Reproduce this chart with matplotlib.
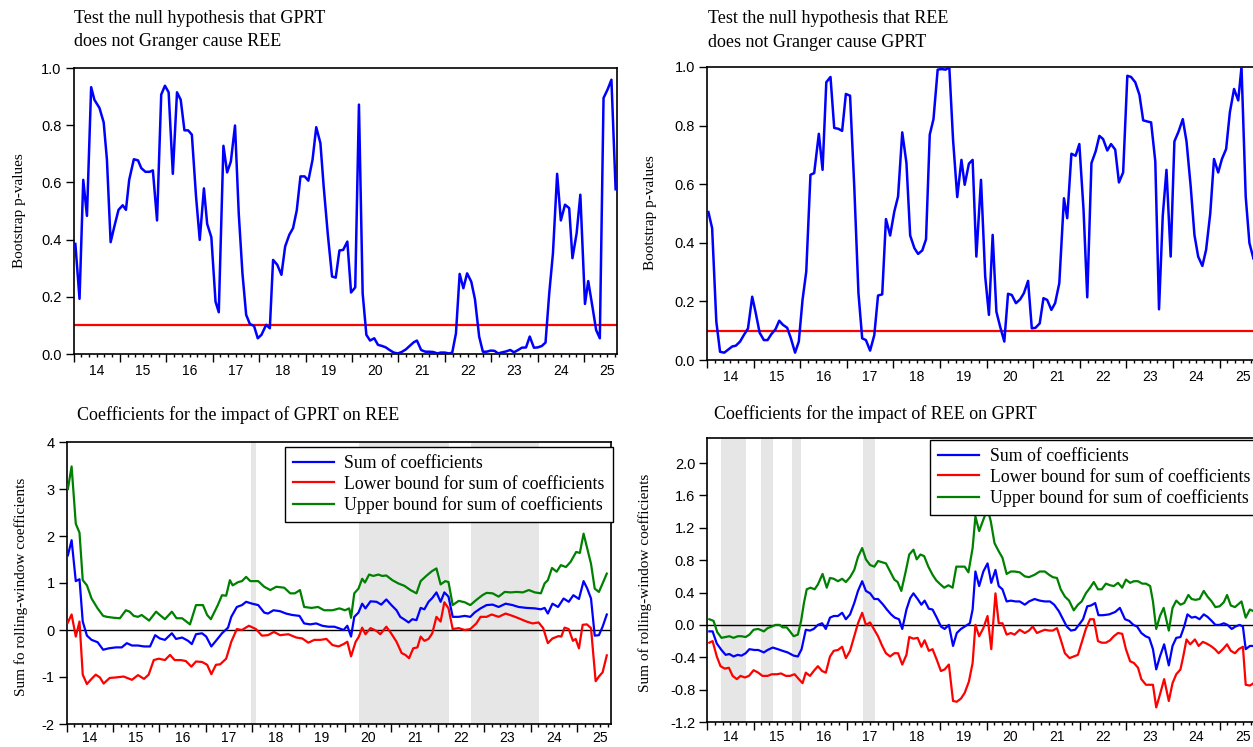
import matplotlib
matplotlib.use('Agg')
import matplotlib.pyplot as plt
from matplotlib.lines import Line2D

W, H = 1253, 747
SERIF = 'Liberation Serif'
SANS = 'Liberation Sans'

# ---------------- data ----------------
year_labels = ['14', '15', '16', '17', '18', '19', '20', '21', '22', '23', '24', '25']
years = list(range(2014, 2026))

# Top-left: bootstrap p-values, H0: GPRT does not Granger cause REE
tl_x = [2014.04, 2014.13, 2014.21, 2014.29, 2014.38, 2014.45, 2014.56, 2014.65, 2014.72, 2014.80, 2014.88, 2014.97,
        2015.06, 2015.13, 2015.20, 2015.30, 2015.39, 2015.46, 2015.55, 2015.64, 2015.71, 2015.80, 2015.89, 2015.97,
        2016.05, 2016.14, 2016.23, 2016.31, 2016.39, 2016.47, 2016.55, 2016.64, 2016.72, 2016.81, 2016.88, 2016.97,
        2017.06, 2017.13, 2017.23, 2017.31, 2017.39, 2017.48, 2017.56, 2017.64, 2017.72, 2017.80, 2017.89, 2017.97,
        2018.05, 2018.15, 2018.23, 2018.30, 2018.39, 2018.48, 2018.56, 2018.65, 2018.73, 2018.81, 2018.89, 2018.98,
        2019.06, 2019.15, 2019.23, 2019.32, 2019.39, 2019.48, 2019.57, 2019.65, 2019.73, 2019.81, 2019.90, 2019.98,
        2020.07, 2020.15, 2020.23, 2020.31, 2020.39, 2020.48, 2020.56, 2020.65, 2020.73, 2020.81, 2020.90, 2020.99,
        2021.07, 2021.16, 2021.24, 2021.33, 2021.40, 2021.49, 2021.58, 2021.66, 2021.75, 2021.84, 2021.91,
        2022.00, 2022.09, 2022.16, 2022.24, 2022.32, 2022.40, 2022.48, 2022.57, 2022.65, 2022.74, 2022.82, 2022.90, 2022.99,
        2023.07, 2023.15, 2023.24, 2023.32, 2023.41, 2023.49, 2023.58, 2023.66, 2023.75, 2023.83, 2023.92,
        2024.00, 2024.09, 2024.17, 2024.25, 2024.33, 2024.42, 2024.50, 2024.59, 2024.68, 2024.75, 2024.84, 2024.92,
        2025.02, 2025.09, 2025.18, 2025.26, 2025.34, 2025.42, 2025.51, 2025.59, 2025.68]
tl_p = [0.385, 0.193, 0.609, 0.483, 0.933, 0.889, 0.86, 0.81, 0.68, 0.391, 0.446, 0.504,
        0.52, 0.504, 0.609, 0.681, 0.677, 0.65, 0.637, 0.637, 0.642, 0.467, 0.907, 0.938,
        0.915, 0.63, 0.915, 0.889, 0.782, 0.782, 0.767, 0.551, 0.399, 0.579, 0.455, 0.408,
        0.183, 0.146, 0.728, 0.635, 0.673, 0.799, 0.492, 0.282, 0.137, 0.105, 0.098, 0.055,
        0.067, 0.102, 0.09, 0.329, 0.312, 0.277, 0.376, 0.417, 0.44, 0.502, 0.621, 0.621,
        0.606, 0.679, 0.793, 0.737, 0.586, 0.417, 0.271, 0.267, 0.362, 0.364, 0.393, 0.215,
        0.233, 0.872, 0.212, 0.067, 0.047, 0.055, 0.032, 0.028, 0.023, 0.014, 0.005, 0.002,
        0.007, 0.016, 0.028, 0.041, 0.047, 0.014, 0.008, 0.008, 0.007, 0.002, 0.005,
        0.005, 0.002, 0.005, 0.072, 0.28, 0.23, 0.282, 0.253, 0.191, 0.061, 0.008, 0.008, 0.012,
        0.011, 0.002, 0.006, 0.009, 0.014, 0.006, 0.014, 0.022, 0.023, 0.061, 0.022,
        0.023, 0.028, 0.04, 0.212, 0.352, 0.63, 0.467, 0.522, 0.51, 0.335, 0.422, 0.557,
        0.175, 0.255, 0.166, 0.084, 0.055, 0.895, 0.926, 0.959, 0.576]

# Top-right: bootstrap p-values, H0: REE does not Granger cause GPRT
tr_x = [2014.03, 2014.11, 2014.20, 2014.28, 2014.37, 2014.46, 2014.54, 2014.62, 2014.71, 2014.79, 2014.88, 2014.97,
        2015.04, 2015.13, 2015.22, 2015.30, 2015.38, 2015.47, 2015.55, 2015.63, 2015.72, 2015.80, 2015.89, 2015.97,
        2016.05, 2016.13, 2016.22, 2016.30, 2016.40, 2016.48, 2016.56, 2016.65, 2016.73, 2016.82, 2016.90, 2016.98,
        2017.07, 2017.16, 2017.25, 2017.33, 2017.41, 2017.50, 2017.59, 2017.67, 2017.76, 2017.84, 2017.93,
        2018.02, 2018.10, 2018.19, 2018.28, 2018.36, 2018.45, 2018.53, 2018.62, 2018.70, 2018.78, 2018.86, 2018.95,
        2019.03, 2019.12, 2019.20, 2019.28, 2019.37, 2019.46, 2019.53, 2019.62, 2019.70, 2019.78, 2019.88, 2019.97,
        2020.05, 2020.13, 2020.21, 2020.29, 2020.38, 2020.46, 2020.54, 2020.63, 2020.72, 2020.80, 2020.89, 2020.97,
        2021.05, 2021.14, 2021.22, 2021.30, 2021.39, 2021.47, 2021.56, 2021.66, 2021.73, 2021.82, 2021.91, 2021.99,
        2022.08, 2022.16, 2022.25, 2022.34, 2022.42, 2022.50, 2022.59, 2022.67, 2022.76, 2022.84, 2022.93,
        2023.02, 2023.10, 2023.19, 2023.28, 2023.36, 2023.45, 2023.53, 2023.62, 2023.70, 2023.78, 2023.86, 2023.95,
        2024.03, 2024.12, 2024.21, 2024.29, 2024.38, 2024.46, 2024.54, 2024.63, 2024.71, 2024.80, 2024.88, 2024.97,
        2025.05, 2025.14, 2025.22, 2025.31, 2025.40, 2025.47, 2025.56, 2025.64, 2025.73, 2025.82]
tr_p = [0.505, 0.45, 0.131, 0.028, 0.025, 0.036, 0.046, 0.049, 0.063, 0.085, 0.108, 0.216,
        0.165, 0.093, 0.068, 0.068, 0.088, 0.105, 0.134, 0.12, 0.11, 0.074, 0.025, 0.063,
        0.205, 0.302, 0.632, 0.638, 0.772, 0.649, 0.948, 0.966, 0.792, 0.789, 0.782, 0.908,
        0.902, 0.592, 0.228, 0.074, 0.068, 0.032, 0.085, 0.22, 0.224, 0.481, 0.425,
        0.507, 0.558, 0.777, 0.672, 0.425, 0.382, 0.362, 0.374, 0.412, 0.769, 0.822, 0.991,
        0.993, 0.991, 0.999, 0.752, 0.556, 0.683, 0.598, 0.67, 0.683, 0.353, 0.615, 0.285,
        0.154, 0.427, 0.165, 0.114, 0.063, 0.226, 0.222, 0.194, 0.207, 0.228, 0.27, 0.108,
        0.11, 0.125, 0.211, 0.205, 0.171, 0.194, 0.262, 0.552, 0.484, 0.704, 0.697, 0.737,
        0.513, 0.214, 0.672, 0.712, 0.765, 0.754, 0.715, 0.737, 0.718, 0.606, 0.64,
        0.97, 0.966, 0.948, 0.905, 0.818, 0.814, 0.811, 0.678, 0.173, 0.492, 0.649, 0.353,
        0.746, 0.78, 0.822, 0.746, 0.592, 0.427, 0.353, 0.321, 0.376, 0.501, 0.686, 0.64,
        0.686, 0.72, 0.845, 0.925, 0.886, 1.0, 0.558, 0.399, 0.344, 0.37]

p_threshold = 0.10

# Bottom-left: coefficients for the impact of GPRT on REE
bl_hi_x = [2014.03, 2014.11, 2014.20, 2014.28, 2014.35, 2014.44, 2014.54, 2014.67, 2014.79, 2014.87, 2015.02, 2015.15,
           2015.28, 2015.36, 2015.45, 2015.54, 2015.62, 2015.78, 2015.93, 2016.01, 2016.12, 2016.27, 2016.37, 2016.49,
           2016.66, 2016.79, 2016.94, 2017.03, 2017.11, 2017.26, 2017.35, 2017.44, 2017.52, 2017.58, 2017.70, 2017.78,
           2017.87, 2017.96, 2018.13, 2018.26, 2018.39, 2018.52, 2018.69, 2018.82, 2018.92, 2019.03, 2019.12, 2019.28,
           2019.42, 2019.55, 2019.73, 2019.88, 2020.00, 2020.09, 2020.13, 2020.20, 2020.29, 2020.37, 2020.43, 2020.52,
           2020.61, 2020.72, 2020.80, 2020.89, 2021.02, 2021.15, 2021.28, 2021.41, 2021.54, 2021.63, 2021.75, 2021.87,
           2021.97, 2022.06, 2022.16, 2022.23, 2022.32, 2022.45, 2022.58, 2022.70, 2022.83, 2022.96, 2023.05, 2023.18,
           2023.31, 2023.44, 2023.57, 2023.70, 2023.83, 2023.96, 2024.09, 2024.22, 2024.30, 2024.37, 2024.46, 2024.56,
           2024.65, 2024.76, 2024.86, 2024.98, 2025.06, 2025.14, 2025.22, 2025.30, 2025.38, 2025.47, 2025.55, 2025.64]
bl_hi = [3.0, 3.48, 2.26, 2.07, 1.06, 0.95, 0.67, 0.46, 0.30, 0.28, 0.26, 0.25,
         0.42, 0.39, 0.30, 0.28, 0.32, 0.20, 0.39, 0.32, 0.23, 0.39, 0.25, 0.25,
         0.12, 0.53, 0.53, 0.32, 0.23, 0.53, 0.74, 0.73, 1.06, 0.95, 1.02, 1.04,
         1.13, 1.04, 1.04, 0.92, 0.85, 0.92, 0.90, 0.78, 0.78, 0.85, 0.49, 0.47,
         0.49, 0.42, 0.42, 0.46, 0.42, 0.46, 0.26, 0.78, 0.88, 1.09, 1.01, 1.18,
         1.15, 1.18, 1.15, 1.16, 1.06, 0.99, 0.94, 0.85, 0.78, 1.04, 1.15, 1.25,
         1.31, 0.97, 1.04, 1.02, 0.53, 0.62, 0.59, 0.53, 0.64, 0.74, 0.79, 0.78,
         0.71, 0.81, 0.80, 0.81, 0.80, 0.85, 0.80, 0.78, 0.99, 1.06, 1.32, 1.24,
         1.38, 1.34, 1.45, 1.66, 1.64, 2.05, 1.73, 1.41, 0.88, 0.81, 0.99, 1.20]

bl_sum_x = [2014.03, 2014.11, 2014.20, 2014.28, 2014.35, 2014.44, 2014.54, 2014.67, 2014.79, 2014.91, 2015.06, 2015.19,
            2015.30, 2015.41, 2015.54, 2015.67, 2015.80, 2015.91, 2016.01, 2016.12, 2016.27, 2016.36, 2016.49, 2016.62,
            2016.70, 2016.79, 2016.92, 2017.01, 2017.12, 2017.22, 2017.35, 2017.48, 2017.55, 2017.67, 2017.78, 2017.87,
            2018.00, 2018.13, 2018.26, 2018.34, 2018.46, 2018.60, 2018.73, 2018.86, 2019.02, 2019.12, 2019.25, 2019.38,
            2019.51, 2019.64, 2019.77, 2019.86, 2019.97, 2020.05, 2020.13, 2020.20, 2020.29, 2020.37, 2020.44, 2020.55,
            2020.68, 2020.78, 2020.89, 2021.00, 2021.11, 2021.19, 2021.30, 2021.37, 2021.45, 2021.54, 2021.63, 2021.71,
            2021.80, 2021.88, 2021.97, 2022.06, 2022.14, 2022.23, 2022.32, 2022.45, 2022.58, 2022.70, 2022.79, 2022.92,
            2023.05, 2023.18, 2023.31, 2023.46, 2023.61, 2023.74, 2023.91, 2024.09, 2024.22, 2024.30, 2024.37, 2024.47,
            2024.59, 2024.71, 2024.82, 2024.92, 2025.04, 2025.14, 2025.22, 2025.30, 2025.38, 2025.47, 2025.55, 2025.64]
bl_sum = [1.59, 1.91, 1.04, 1.08, 0.18, -0.12, -0.21, -0.26, -0.42, -0.39, -0.37, -0.37,
          -0.28, -0.33, -0.33, -0.35, -0.35, -0.11, -0.18, -0.21, -0.07, -0.19, -0.16, -0.23,
          -0.30, -0.09, -0.07, -0.14, -0.35, -0.23, -0.07, 0.05, 0.28, 0.49, 0.53, 0.60,
          0.56, 0.53, 0.37, 0.35, 0.42, 0.40, 0.35, 0.32, 0.30, 0.14, 0.12, 0.14,
          0.09, 0.07, 0.07, 0.04, 0.00, 0.09, -0.14, 0.28, 0.37, 0.56, 0.46, 0.61,
          0.60, 0.54, 0.65, 0.53, 0.42, 0.28, 0.21, 0.16, 0.23, 0.21, 0.47, 0.44,
          0.60, 0.68, 0.80, 0.60, 0.80, 0.71, 0.28, 0.28, 0.30, 0.28, 0.37, 0.46,
          0.53, 0.54, 0.49, 0.56, 0.53, 0.49, 0.47, 0.46, 0.44, 0.47, 0.35, 0.56,
          0.49, 0.67, 0.60, 0.74, 0.66, 1.04, 0.88, 0.67, -0.12, -0.11, 0.07, 0.33]

bl_lo_x = [2014.03, 2014.11, 2014.20, 2014.28, 2014.35, 2014.44, 2014.54, 2014.63, 2014.72, 2014.80, 2014.93, 2015.06,
           2015.23, 2015.41, 2015.54, 2015.67, 2015.77, 2015.88, 2015.99, 2016.12, 2016.23, 2016.33, 2016.46, 2016.57,
           2016.69, 2016.79, 2016.92, 2017.03, 2017.12, 2017.22, 2017.31, 2017.44, 2017.55, 2017.67, 2017.78, 2017.93,
           2018.08, 2018.21, 2018.34, 2018.47, 2018.60, 2018.78, 2018.95, 2019.08, 2019.21, 2019.34, 2019.47, 2019.60,
           2019.73, 2019.86, 2019.97, 2020.05, 2020.13, 2020.23, 2020.30, 2020.37, 2020.44, 2020.55, 2020.68, 2020.76,
           2020.89, 2020.98, 2021.11, 2021.22, 2021.30, 2021.38, 2021.47, 2021.56, 2021.63, 2021.71, 2021.80, 2021.88,
           2021.97, 2022.06, 2022.14, 2022.23, 2022.32, 2022.45, 2022.58, 2022.70, 2022.83, 2022.92, 2023.05, 2023.16,
           2023.31, 2023.46, 2023.61, 2023.74, 2023.91, 2024.04, 2024.17, 2024.27, 2024.37, 2024.47, 2024.60, 2024.66,
           2024.73, 2024.82, 2024.91, 2024.97, 2025.04, 2025.12, 2025.21, 2025.30, 2025.40, 2025.47, 2025.55, 2025.64]
bl_lo = [0.16, 0.33, -0.14, 0.18, -0.95, -1.15, -1.04, -0.95, -1.01, -1.14, -1.02, -1.01,
         -0.99, -1.06, -0.96, -1.04, -0.95, -0.64, -0.61, -0.64, -0.53, -0.64, -0.64, -0.66,
         -0.78, -0.67, -0.68, -0.74, -0.94, -0.74, -0.73, -0.61, -0.25, 0.02, 0.00, 0.09,
         0.02, -0.12, -0.11, -0.04, -0.11, -0.09, -0.16, -0.18, -0.27, -0.21, -0.21, -0.19,
         -0.32, -0.35, -0.30, -0.25, -0.56, -0.25, -0.14, 0.05, -0.09, 0.04, -0.02, -0.09,
         0.07, -0.05, -0.25, -0.49, -0.53, -0.60, -0.39, -0.37, -0.14, -0.23, -0.19, -0.07,
         0.28, 0.18, 0.59, 0.46, 0.02, 0.04, 0.00, 0.02, 0.14, 0.28, 0.28, 0.33,
         0.28, 0.35, 0.30, 0.25, 0.18, 0.14, 0.16, 0.04, -0.28, -0.18, -0.13, -0.14,
         0.05, 0.02, -0.23, -0.19, -0.39, 0.11, 0.12, 0.04, -1.09, -0.99, -0.90, -0.54]

bl_bands = [(2017.97, 2018.08), (2020.30, 2022.25), (2022.72, 2024.17)]

# Bottom-right: coefficients for the impact of REE on GPRT
br_hi_x = [2014.05, 2014.14, 2014.22, 2014.31, 2014.40, 2014.48, 2014.57, 2014.66, 2014.74, 2014.83, 2014.91, 2015.00,
           2015.10, 2015.22, 2015.30, 2015.39, 2015.47, 2015.56, 2015.62, 2015.71, 2015.78, 2015.86, 2015.95, 2016.02,
           2016.08, 2016.14, 2016.22, 2016.31, 2016.38, 2016.48, 2016.57, 2016.64, 2016.72, 2016.81, 2016.90, 2016.98,
           2017.07, 2017.16, 2017.24, 2017.33, 2017.41, 2017.50, 2017.59, 2017.67, 2017.78, 2017.84, 2017.93, 2018.02,
           2018.09, 2018.17, 2018.26, 2018.34, 2018.43, 2018.50, 2018.58, 2018.66, 2018.75, 2018.84, 2018.92, 2019.01,
           2019.09, 2019.18, 2019.27, 2019.35, 2019.44, 2019.53, 2019.61, 2019.70, 2019.76, 2019.84, 2019.93, 2020.02,
           2020.09, 2020.17, 2020.26, 2020.34, 2020.43, 2020.52, 2020.60, 2020.71, 2020.82, 2020.91, 2021.03, 2021.14,
           2021.25, 2021.34, 2021.42, 2021.51, 2021.59, 2021.68, 2021.77, 2021.87, 2021.96, 2022.04, 2022.13, 2022.22,
           2022.30, 2022.39, 2022.47, 2022.56, 2022.65, 2022.73, 2022.82, 2022.91, 2022.99, 2023.08, 2023.16, 2023.25,
           2023.34, 2023.42, 2023.51, 2023.57, 2023.64, 2023.72, 2023.80, 2023.91, 2023.99, 2024.07, 2024.16, 2024.24,
           2024.33, 2024.40, 2024.48, 2024.57, 2024.66, 2024.74, 2024.83, 2024.91, 2025.00, 2025.09, 2025.16, 2025.24,
           2025.33, 2025.41, 2025.47, 2025.56, 2025.65, 2025.73]
br_hi = [0.07, 0.05, -0.09, -0.16, -0.15, -0.14, -0.16, -0.14, -0.14, -0.15, -0.12, -0.06,
         -0.05, -0.08, -0.04, -0.02, 0.00, 0.00, -0.03, -0.03, -0.08, -0.14, -0.12, 0.05,
         0.27, 0.44, 0.46, 0.44, 0.50, 0.63, 0.46, 0.58, 0.57, 0.54, 0.57, 0.53,
         0.59, 0.68, 0.84, 0.95, 0.81, 0.74, 0.72, 0.79, 0.77, 0.76, 0.66, 0.56,
         0.53, 0.42, 0.65, 0.87, 0.93, 0.81, 0.87, 0.85, 0.72, 0.62, 0.55, 0.50,
         0.46, 0.49, 0.46, 0.72, 0.72, 0.72, 0.65, 0.95, 1.34, 1.16, 1.30, 1.44,
         1.28, 1.01, 0.91, 0.83, 0.63, 0.66, 0.66, 0.65, 0.60, 0.59, 0.62, 0.66,
         0.66, 0.62, 0.59, 0.58, 0.44, 0.35, 0.30, 0.18, 0.25, 0.29, 0.39, 0.46,
         0.53, 0.44, 0.44, 0.51, 0.49, 0.48, 0.52, 0.46, 0.56, 0.52, 0.54, 0.54,
         0.51, 0.51, 0.48, 0.29, -0.05, 0.11, 0.21, -0.07, 0.21, 0.30, 0.25, 0.27,
         0.37, 0.32, 0.31, 0.32, 0.42, 0.35, 0.29, 0.22, 0.23, 0.28, 0.37, 0.24,
         0.22, 0.26, 0.29, 0.09, 0.19, 0.17]

br_sum_x = [2014.05, 2014.12, 2014.21, 2014.31, 2014.40, 2014.48, 2014.57, 2014.66, 2014.74, 2014.83, 2014.91, 2015.02,
            2015.10, 2015.22, 2015.30, 2015.41, 2015.52, 2015.62, 2015.73, 2015.86, 2015.95, 2016.03, 2016.12, 2016.21,
            2016.29, 2016.38, 2016.47, 2016.55, 2016.64, 2016.72, 2016.81, 2016.90, 2016.98, 2017.07, 2017.16, 2017.24,
            2017.33, 2017.41, 2017.50, 2017.59, 2017.67, 2017.78, 2017.86, 2017.95, 2018.03, 2018.12, 2018.19, 2018.28,
            2018.36, 2018.43, 2018.52, 2018.60, 2018.67, 2018.76, 2018.84, 2018.93, 2019.02, 2019.10, 2019.19, 2019.28,
            2019.36, 2019.45, 2019.53, 2019.64, 2019.70, 2019.76, 2019.84, 2019.93, 2020.02, 2020.10, 2020.19, 2020.26,
            2020.34, 2020.43, 2020.52, 2020.62, 2020.71, 2020.82, 2020.91, 2021.03, 2021.14, 2021.25, 2021.36, 2021.45,
            2021.55, 2021.64, 2021.72, 2021.81, 2021.90, 2021.98, 2022.07, 2022.16, 2022.24, 2022.33, 2022.40, 2022.50,
            2022.63, 2022.76, 2022.86, 2022.97, 2023.06, 2023.15, 2023.23, 2023.32, 2023.41, 2023.49, 2023.57, 2023.64,
            2023.72, 2023.81, 2023.91, 2023.99, 2024.07, 2024.16, 2024.24, 2024.31, 2024.40, 2024.48, 2024.57, 2024.66,
            2024.74, 2024.83, 2024.91, 2025.00, 2025.09, 2025.17, 2025.26, 2025.34, 2025.43, 2025.50, 2025.56, 2025.65,
            2025.73]
br_sum = [-0.08, -0.08, -0.23, -0.31, -0.37, -0.36, -0.39, -0.37, -0.38, -0.35, -0.30, -0.31,
          -0.31, -0.34, -0.31, -0.28, -0.30, -0.32, -0.34, -0.38, -0.39, -0.30, -0.06, -0.07,
          -0.05, 0.00, 0.02, -0.05, 0.09, 0.11, 0.11, 0.15, 0.07, 0.13, 0.27, 0.42,
          0.54, 0.42, 0.39, 0.32, 0.32, 0.25, 0.19, 0.13, 0.09, 0.07, -0.05, 0.19,
          0.33, 0.39, 0.32, 0.25, 0.30, 0.20, 0.19, 0.09, -0.02, -0.05, 0.00, -0.26,
          -0.10, -0.05, -0.02, 0.02, 0.19, 0.66, 0.48, 0.66, 0.76, 0.52, 0.68, 0.48,
          0.44, 0.29, 0.30, 0.29, 0.29, 0.25, 0.29, 0.32, 0.30, 0.29, 0.29, 0.25,
          0.17, 0.07, -0.02, -0.07, -0.06, 0.00, 0.07, 0.23, 0.24, 0.27, 0.12, 0.12,
          0.13, 0.16, 0.21, 0.07, 0.05, 0.00, -0.02, -0.10, -0.14, -0.16, -0.30, -0.55,
          -0.39, -0.24, -0.50, -0.26, -0.16, -0.15, -0.02, 0.13, 0.09, 0.10, 0.07, 0.13,
          0.10, 0.05, 0.00, 0.00, 0.02, 0.00, -0.05, -0.02, 0.00, -0.02, -0.30, -0.26,
          -0.26]

br_lo_x = [2014.05, 2014.12, 2014.21, 2014.29, 2014.38, 2014.47, 2014.55, 2014.64, 2014.72, 2014.81, 2014.90, 2015.00,
           2015.10, 2015.19, 2015.30, 2015.39, 2015.50, 2015.59, 2015.69, 2015.78, 2015.88, 2015.97, 2016.05, 2016.12,
           2016.21, 2016.29, 2016.38, 2016.47, 2016.55, 2016.64, 2016.72, 2016.81, 2016.90, 2016.98, 2017.07, 2017.16,
           2017.24, 2017.33, 2017.41, 2017.50, 2017.59, 2017.67, 2017.76, 2017.84, 2017.93, 2018.02, 2018.10, 2018.19,
           2018.28, 2018.34, 2018.43, 2018.52, 2018.60, 2018.67, 2018.76, 2018.84, 2018.93, 2019.02, 2019.10, 2019.19,
           2019.28, 2019.36, 2019.45, 2019.53, 2019.62, 2019.70, 2019.76, 2019.84, 2019.93, 2020.02, 2020.10, 2020.19,
           2020.26, 2020.34, 2020.43, 2020.52, 2020.60, 2020.71, 2020.82, 2020.91, 2020.99, 2021.08, 2021.16, 2021.25,
           2021.34, 2021.42, 2021.51, 2021.59, 2021.68, 2021.78, 2021.87, 2021.96, 2022.04, 2022.13, 2022.22, 2022.30,
           2022.39, 2022.47, 2022.56, 2022.65, 2022.73, 2022.82, 2022.91, 2022.99, 2023.08, 2023.16, 2023.25, 2023.32,
           2023.42, 2023.51, 2023.57, 2023.64, 2023.73, 2023.81, 2023.91, 2023.99, 2024.07, 2024.16, 2024.22, 2024.29,
           2024.37, 2024.47, 2024.55, 2024.64, 2024.72, 2024.81, 2024.90, 2024.98, 2025.07, 2025.16, 2025.24, 2025.33,
           2025.41, 2025.50, 2025.56, 2025.65, 2025.73]
br_lo = [-0.22, -0.20, -0.39, -0.51, -0.54, -0.53, -0.63, -0.67, -0.63, -0.65, -0.63, -0.56,
         -0.59, -0.63, -0.63, -0.61, -0.61, -0.60, -0.63, -0.63, -0.61, -0.67, -0.72, -0.59,
         -0.63, -0.57, -0.51, -0.57, -0.59, -0.39, -0.32, -0.31, -0.27, -0.41, -0.32, -0.14,
         0.02, 0.15, 0.00, 0.03, -0.06, -0.14, -0.26, -0.35, -0.39, -0.35, -0.35, -0.49,
         -0.37, -0.15, -0.17, -0.16, -0.27, -0.19, -0.32, -0.30, -0.43, -0.57, -0.55, -0.49,
         -0.94, -0.95, -0.91, -0.84, -0.70, -0.47, 0.00, -0.14, -0.04, 0.11, -0.30, 0.39,
         0.02, 0.02, -0.12, -0.10, -0.12, -0.06, -0.10, -0.07, -0.02, -0.10, -0.08, -0.06,
         -0.07, -0.07, -0.04, -0.18, -0.35, -0.41, -0.39, -0.37, -0.22, -0.05, 0.07, 0.07,
         -0.20, -0.22, -0.22, -0.19, -0.14, -0.10, -0.11, -0.30, -0.45, -0.47, -0.53, -0.67,
         -0.74, -0.74, -0.74, -1.02, -0.84, -0.67, -0.94, -0.72, -0.61, -0.55, -0.39, -0.18,
         -0.24, -0.18, -0.26, -0.21, -0.23, -0.26, -0.30, -0.35, -0.30, -0.24, -0.32, -0.35,
         -0.30, -0.27, -0.74, -0.75, -0.72]

br_bands = [(2014.31, 2014.83), (2015.15, 2015.41), (2015.82, 2016.02), (2017.34, 2017.61)]

legend_labels = ['Sum of coefficients', 'Lower bound for sum of coefficients',
                 'Upper bound for sum of coefficients']

BLUE, RED, GREEN, BAND = '#0000ff', '#ff0000', '#008000', '#e6e6e6'

# ---------------- figure ----------------
fig = plt.figure(figsize=(W / 100, H / 100), dpi=100)
fig.patch.set_facecolor('white')


def ax_px(left, right, top, bottom):
    return fig.add_axes([left / W, 1 - bottom / H, (right - left) / W, (bottom - top) / H])


def text_px(x, y, s, **kw):
    fig.text(x / W, 1 - y / H, s, **kw)


def style(ax, x1, ylim, yticks, ylabels, xpad):
    ax.set_xlim(2014.0, x1)
    ax.set_ylim(*ylim)
    ax.set_xticks(years)
    ax.set_xticklabels([''] * len(years))
    minors, mlabels = [], []
    for yr, lab in zip(years, year_labels):
        for k in range(1, 6):
            p = yr + k / 6
            if p < x1:
                minors.append(p)
                mlabels.append(lab if k == 3 else '')
    ax.set_xticks(minors, minor=True)
    ax.set_xticklabels(mlabels, minor=True)
    ax.set_yticks(yticks)
    ax.set_yticklabels(ylabels)
    ax.tick_params(axis='x', which='major', length=5.5, width=1.0, direction='out')
    ax.tick_params(axis='x', which='minor', length=2.5, width=1.0, direction='out',
                   pad=xpad, labelsize=10)
    ax.tick_params(axis='y', which='major', length=6, width=1.0, direction='out',
                   pad=2.5, labelsize=10.5)
    for lab in ax.get_xticklabels(minor=True) + ax.get_yticklabels():
        lab.set_fontfamily(SANS)
    for sp in ax.spines.values():
        sp.set_linewidth(1.2)


# Top-left
ax1 = ax_px(73.5, 617, 68, 354)
ax1.plot(tl_x, tl_p, color=BLUE, lw=1.8, zorder=3)
ax1.axhline(p_threshold, color=RED, lw=1.6, zorder=2)
style(ax1, 2025.71, (0, 1.0), [0, 0.2, 0.4, 0.6, 0.8, 1.0],
      ['0.0', '0.2', '0.4', '0.6', '0.8', '1.0'], 4.8)

# Top-right
ax2 = ax_px(707, 1256, 67, 360)
ax2.plot(tr_x, tr_p, color=BLUE, lw=1.8, zorder=3)
ax2.axhline(p_threshold, color=RED, lw=1.6, zorder=2)
style(ax2, 2014 + (1256 - 707) / 46.6, (0, 1.0), [0, 0.2, 0.4, 0.6, 0.8, 1.0],
      ['0.0', '0.2', '0.4', '0.6', '0.8', '1.0'], 4.8)

# Bottom-left
ax3 = ax_px(66.5, 610.5, 442, 724)
for a, b in bl_bands:
    ax3.axvspan(a, b, color=BAND, lw=0, zorder=0)
ax3.axhline(0, color='black', lw=1.0, zorder=2)
ax3.plot(bl_sum_x, bl_sum, color=BLUE, lw=1.6, zorder=3)
ax3.plot(bl_lo_x, bl_lo, color=RED, lw=1.6, zorder=3)
ax3.plot(bl_hi_x, bl_hi, color=GREEN, lw=1.6, zorder=3)
style(ax3, 2025.72, (-2, 4), [-2, -1, 0, 1, 2, 3, 4], ['-2', '-1', '0', '1', '2', '3', '4'], 2.4)

# Bottom-right
ax4 = ax_px(707, 1256, 438, 722)
for a, b in br_bands:
    ax4.axvspan(a, b, color=BAND, lw=0, zorder=0)
ax4.axhline(0, color='black', lw=1.0, zorder=2)
ax4.plot(br_sum_x, br_sum, color=BLUE, lw=1.6, zorder=3)
ax4.plot(br_lo_x, br_lo, color=RED, lw=1.6, zorder=3)
ax4.plot(br_hi_x, br_hi, color=GREEN, lw=1.6, zorder=3)
br_ticks = [-1.2, -0.8, -0.4, 0.0, 0.4, 0.8, 1.2, 1.6, 2.0]
style(ax4, 2014 + (1256 - 707) / 46.6, (-1.2, 2.31), br_ticks,
      [f'{t:.1f}' for t in br_ticks], 3.0)

handles = [Line2D([], [], color=c, lw=1.6) for c in (BLUE, RED, GREEN)]
for ax, anchor in ((ax3, (1.004, 0.982)), (ax4, (1.004, 0.993))):
    leg = ax.legend(handles, legend_labels, loc='upper right', bbox_to_anchor=anchor,
                    borderaxespad=0, frameon=True, fancybox=False, framealpha=1,
                    edgecolor='black', prop={'family': SERIF, 'size': 12.8},
                    handlelength=2.3, handletextpad=0.6, borderpad=0.45, labelspacing=0.2)
    leg.get_frame().set_linewidth(1.0)
    leg.set_zorder(5)

# Titles
tkw = dict(fontfamily=SERIF, fontsize=13, ha='left', va='baseline', color='black')
text_px(74, 23, 'Test the null hypothesis that GPRT', **tkw)
text_px(74, 46, 'does not Granger cause REE', **tkw)
text_px(708, 23, 'Test the null hypothesis that REE', **tkw)
text_px(708, 47, 'does not Granger cause GPRT', **tkw)
text_px(77, 420, 'Coefficients for the impact of GPRT on REE', **tkw)
text_px(714, 419, 'Coefficients for the impact of REE on GPRT', **tkw)

# Y-axis labels
ykw = dict(fontfamily=SERIF, fontsize=11, rotation=90, ha='center', va='center', color='black')
text_px(20, 211, 'Bootstrap p-values', **ykw)
text_px(651, 213, 'Bootstrap p-values', **ykw)
text_px(21, 587, 'Sum fo rolling-window coefficients', **ykw)
text_px(645, 583, 'Sum of rolling-window coefficients', **ykw)

fig.savefig('out.png', dpi=100)
